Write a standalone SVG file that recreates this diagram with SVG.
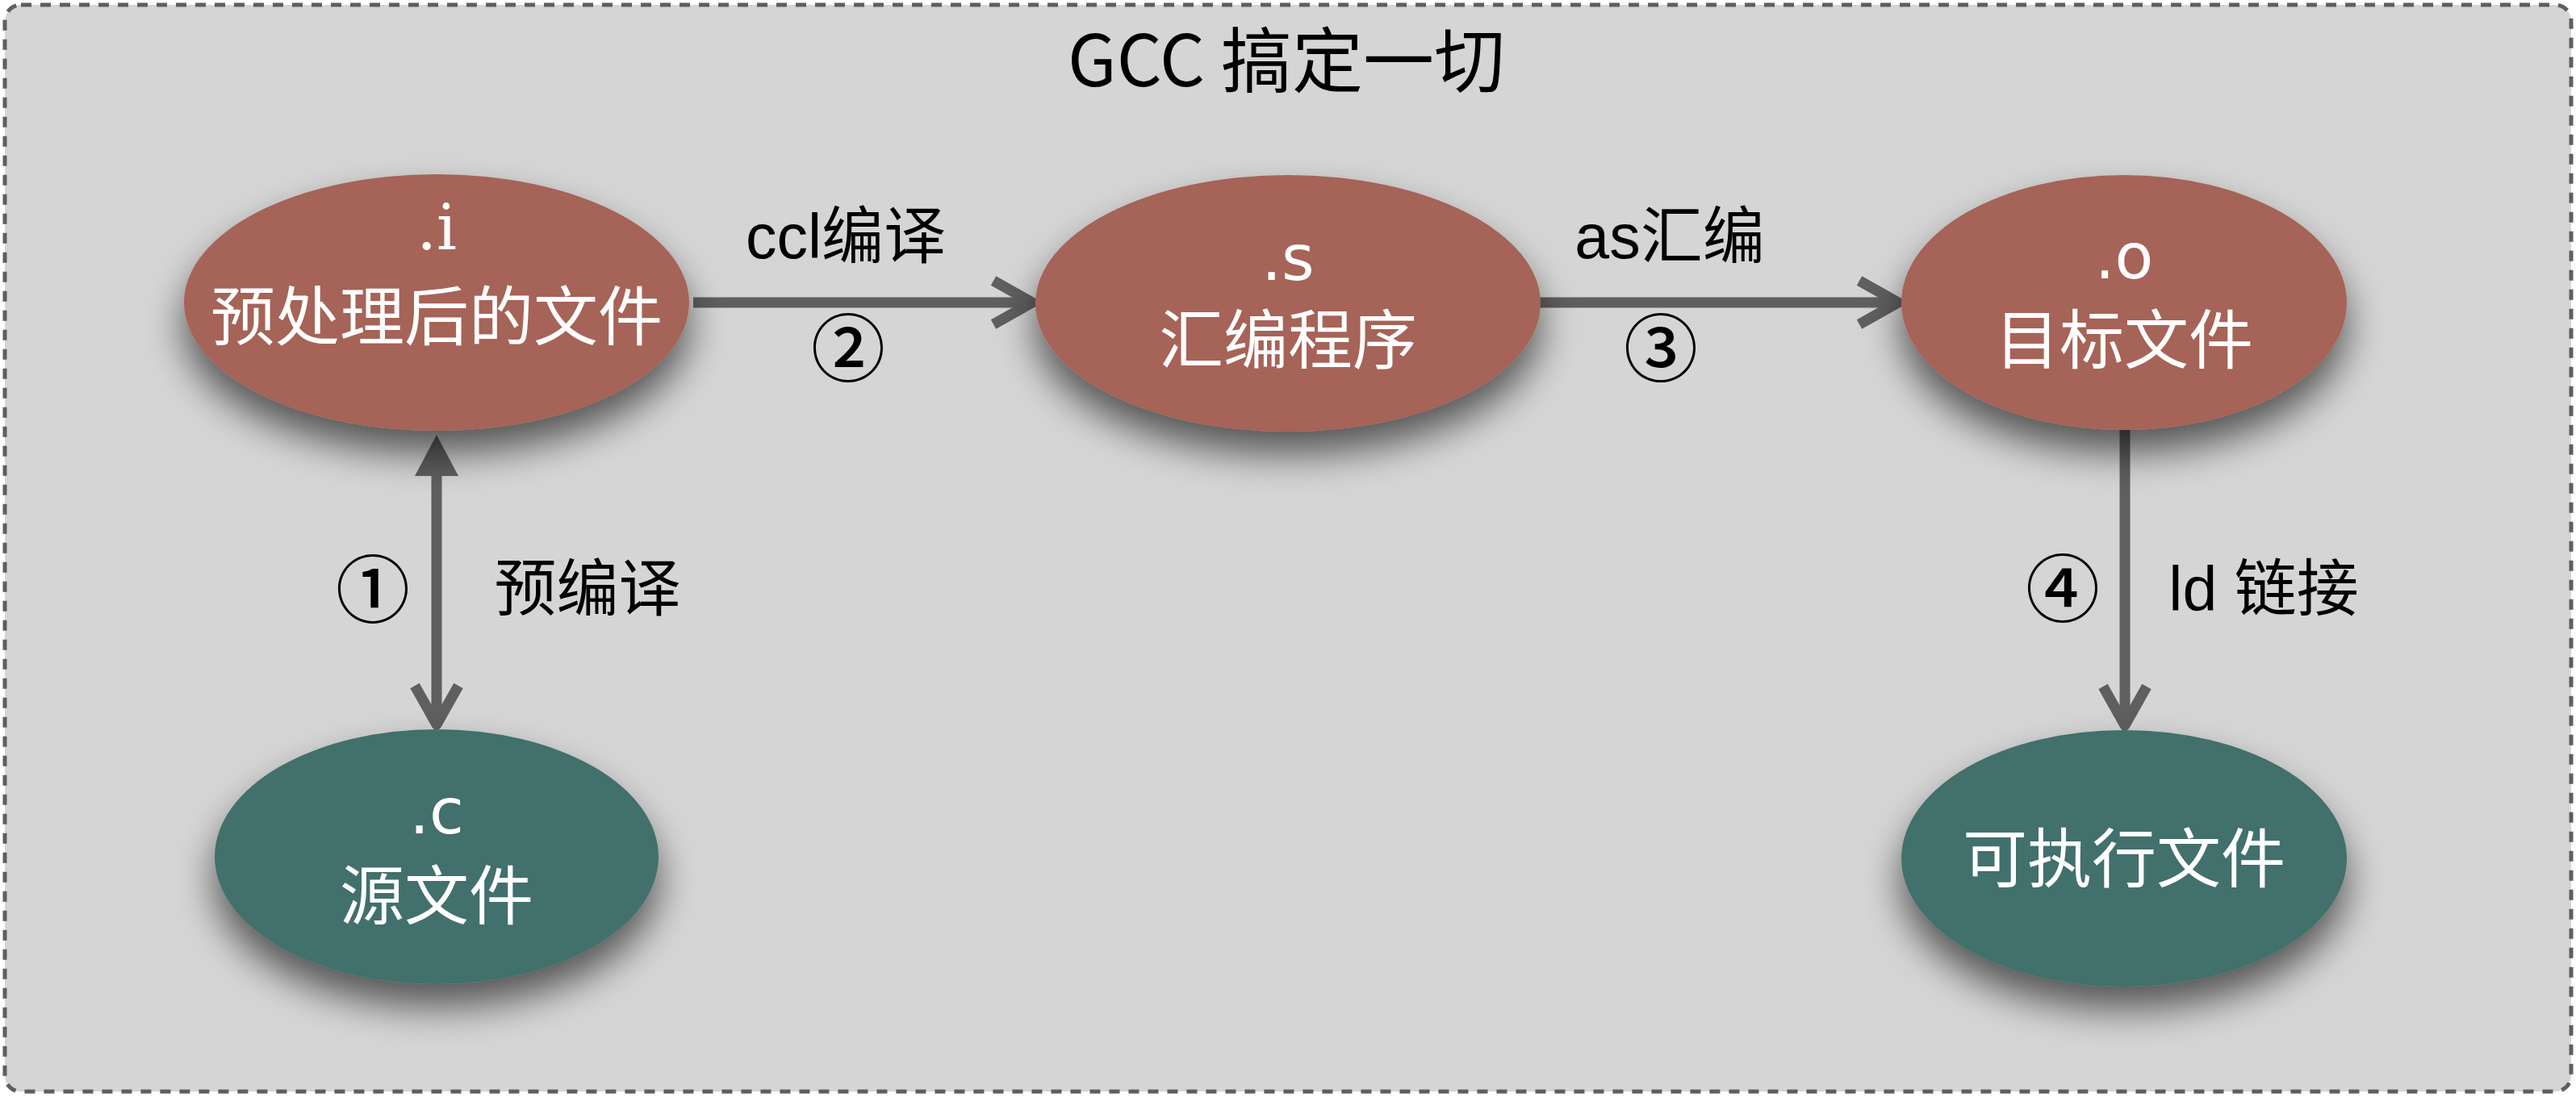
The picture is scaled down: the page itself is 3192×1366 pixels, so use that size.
<svg xmlns="http://www.w3.org/2000/svg" width="3192" height="1366" viewBox="0 0 3192 1366">
<defs>
<style>
.bg{fill:#d5d5d5;stroke:#5e5e5e;stroke-width:5;stroke-dasharray:13 11}
.red{fill:#a66458}
.teal{fill:#43706c}
.nt{font-family:"Noto Sans CJK SC","Noto Sans",sans-serif;font-size:80px;fill:#fff;text-anchor:middle}
.ext{font-family:"DejaVu Sans","Noto Sans",sans-serif;font-size:78px;fill:#fff;text-anchor:middle}
.exts{font-family:"DejaVu Serif","Liberation Serif",serif;font-size:78px;fill:#fff;text-anchor:middle}
.lbl{font-family:"Liberation Sans","Noto Sans CJK SC",sans-serif;font-size:77px;fill:#000;text-anchor:middle}
.num{font-family:"Noto Sans CJK SC",sans-serif;font-size:92px;font-weight:500;fill:#000;text-anchor:middle}
.title{font-family:"Noto Sans CJK SC",sans-serif;font-size:88px;font-weight:400;fill:#000;text-anchor:middle}
.conn{stroke:#5f5f5f;stroke-width:13;fill:none}
</style>
<filter id="shadow" x="-30%" y="-30%" width="160%" height="180%">
<feDropShadow dx="0" dy="28" stdDeviation="24" flood-color="#000" flood-opacity="0.6"/>
</filter>
<marker id="chev" markerUnits="userSpaceOnUse" markerWidth="120" markerHeight="120" viewBox="-60 -60 120 120" refX="0" refY="0" orient="auto" overflow="visible">
<path d="M-42 -27 L6 0 L-42 27" fill="none" stroke="#5f5f5f" stroke-width="13" stroke-linejoin="round"/>
</marker>
<marker id="tri" markerUnits="userSpaceOnUse" markerWidth="120" markerHeight="120" viewBox="-60 -60 120 120" refX="0" refY="0" orient="auto-start-reverse" overflow="visible">
<path d="M-5 -27 L46 0 L-5 27 Z" fill="#5f5f5f"/>
</marker>
</defs>

<rect class="bg" x="6" y="6" width="3180" height="1347" rx="20" ry="20"/>
<text class="title" x="1594" y="107">GCC 搞定一切</text>

<g id="connectors">
<path class="conn" d="M541 585 L541 892" marker-start="url(#tri)" marker-end="url(#chev)"/>
<path class="conn" d="M859 375 L1273 375" marker-end="url(#chev)"/>
<path class="conn" d="M1908 375 L2346 375" marker-end="url(#chev)"/>
<path class="conn" d="M2633 533 L2633 893" marker-end="url(#chev)"/>
<text class="lbl" x="1048" y="320">ccl编译</text>
<text class="num" x="1051" y="466">②</text>
<text class="lbl" x="2069" y="320">as汇编</text>
<text class="num" x="2058" y="466">③</text>
<text class="num" x="462" y="765">①</text>
<text class="lbl" x="728" y="757">预编译</text>
<text class="num" x="2556" y="764">④</text>
<text class="lbl" x="2805" y="757">ld 链接</text>
</g>

<g id="node-i">
<ellipse class="red" cx="541" cy="375" rx="313" ry="159" filter="url(#shadow)"/>
<text class="exts" x="541" y="309">.i</text>
<text class="nt" x="541" y="421">预处理后的文件</text>
</g>
<g id="node-s">
<ellipse class="red" cx="1596" cy="376" rx="313" ry="159" filter="url(#shadow)"/>
<text class="ext" x="1596" y="347">.s</text>
<text class="nt" x="1596" y="450">汇编程序</text>
</g>
<g id="node-o">
<ellipse class="red" cx="2632" cy="375" rx="276" ry="158" filter="url(#shadow)"/>
<text class="ext" x="2632" y="345">.o</text>
<text class="nt" x="2632" y="450">目标文件</text>
</g>
<g id="node-c">
<ellipse class="teal" cx="541" cy="1062" rx="275" ry="158" filter="url(#shadow)"/>
<text class="ext" x="541" y="1033">.c</text>
<text class="nt" x="541" y="1139">源文件</text>
</g>
<g id="node-exe">
<ellipse class="teal" cx="2632" cy="1064" rx="276" ry="159" filter="url(#shadow)"/>
<text class="nt" x="2632" y="1093">可执行文件</text>
</g>
</svg>
